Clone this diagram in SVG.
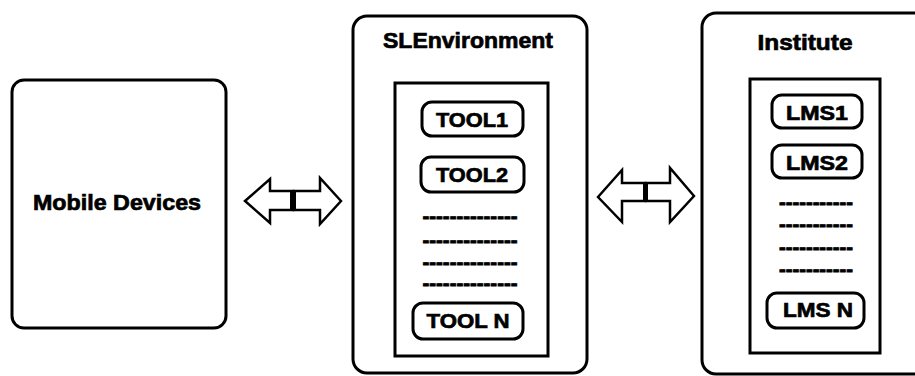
<svg xmlns="http://www.w3.org/2000/svg" width="915" height="376" viewBox="0 0 915 376">
<style>
.box{fill:#fff;stroke:#000;stroke-width:3}
.inner{fill:#fff;stroke:#000;stroke-width:3}
.pill{fill:#fff;stroke:#000;stroke-width:3}
.title{font-family:"Liberation Sans",Arial,sans-serif;font-weight:bold;font-size:22px;text-anchor:middle;fill:#000;stroke:#000;stroke-width:0.7}
.lbl{font-family:"Liberation Sans",Arial,sans-serif;font-weight:bold;font-size:21px;text-anchor:middle;fill:#000;stroke:#000;stroke-width:0.7}
.dash{font-family:"Liberation Sans",Arial,sans-serif;font-weight:bold;font-size:20px;text-anchor:middle;fill:#000;stroke:#000;stroke-width:0.8}
.arrow{fill:#fff;stroke:#000;stroke-width:2.5;stroke-linejoin:miter}
</style>
<rect width="915" height="376" fill="#fff"/>
<g id="mobile">
<rect class="box" x="12" y="80" width="214" height="248" rx="12"/>
<text class="title" x="117" y="210" textLength="168" lengthAdjust="spacingAndGlyphs">Mobile Devices</text>
</g>
<g id="slenv">
<rect class="box" x="353" y="16" width="234" height="357" rx="14"/>
<text class="title" x="468" y="48" textLength="170" lengthAdjust="spacingAndGlyphs">SLEnvironment</text>
<rect class="inner" x="395" y="83" width="153" height="273"/>
<g id="tool1"><rect class="pill" x="422" y="102" width="101" height="34" rx="10"/>
<text class="lbl" x="472" y="127" textLength="72" lengthAdjust="spacingAndGlyphs">TOOL1</text></g>
<g id="tool2"><rect class="pill" x="421" y="157" width="103" height="35" rx="10"/>
<text class="lbl" x="472" y="182" textLength="72" lengthAdjust="spacingAndGlyphs">TOOL2</text></g>
<text class="dash" x="470" y="223" textLength="95" lengthAdjust="spacingAndGlyphs">--------------</text>
<text class="dash" x="470" y="247" textLength="95" lengthAdjust="spacingAndGlyphs">--------------</text>
<text class="dash" x="470" y="269" textLength="95" lengthAdjust="spacingAndGlyphs">--------------</text>
<text class="dash" x="470" y="290" textLength="95" lengthAdjust="spacingAndGlyphs">--------------</text>
<g id="tooln"><rect class="pill" x="413" y="303" width="110" height="36" rx="10"/>
<text class="lbl" x="468" y="328" textLength="83" lengthAdjust="spacingAndGlyphs">TOOL N</text></g>
</g>
<g id="institute">
<rect class="box" x="702" y="13" width="240" height="361" rx="14"/>
<text class="title" x="805" y="50" textLength="95" lengthAdjust="spacingAndGlyphs">Institute</text>
<rect class="inner" x="750" y="79" width="130" height="274"/>
<g id="lms1"><rect class="pill" x="772" y="95" width="90" height="33" rx="10"/>
<text class="lbl" x="817" y="120" textLength="62" lengthAdjust="spacingAndGlyphs">LMS1</text></g>
<g id="lms2"><rect class="pill" x="772" y="145" width="90" height="33" rx="10"/>
<text class="lbl" x="817" y="170" textLength="62" lengthAdjust="spacingAndGlyphs">LMS2</text></g>
<text class="dash" x="816" y="209" textLength="74" lengthAdjust="spacingAndGlyphs">-----------</text>
<text class="dash" x="816" y="231" textLength="74" lengthAdjust="spacingAndGlyphs">-----------</text>
<text class="dash" x="816" y="254" textLength="74" lengthAdjust="spacingAndGlyphs">-----------</text>
<text class="dash" x="816" y="276" textLength="74" lengthAdjust="spacingAndGlyphs">-----------</text>
<g id="lmsn"><rect class="pill" x="767" y="293" width="97" height="35" rx="10"/>
<text class="lbl" x="818" y="317" textLength="70" lengthAdjust="spacingAndGlyphs">LMS N</text></g>
</g>
<g id="connectors">
<polygon class="arrow" points="245,201 270,179 270,191 293,191 293,210 270,210 270,223"/>
<polygon class="arrow" points="341,201 320,178 320,191 294,191 294,210 320,210 320,224"/>
<rect x="290" y="191" width="6" height="19" fill="#000"/>
<polygon class="arrow" points="598,197 622,170 622,183 645,183 645,201 622,201 622,222"/>
<polygon class="arrow" points="694,196 670,168 670,183 646,183 646,201 670,201 670,222"/>
<rect x="643" y="183" width="5" height="18" fill="#000"/>
</g>
</svg>
